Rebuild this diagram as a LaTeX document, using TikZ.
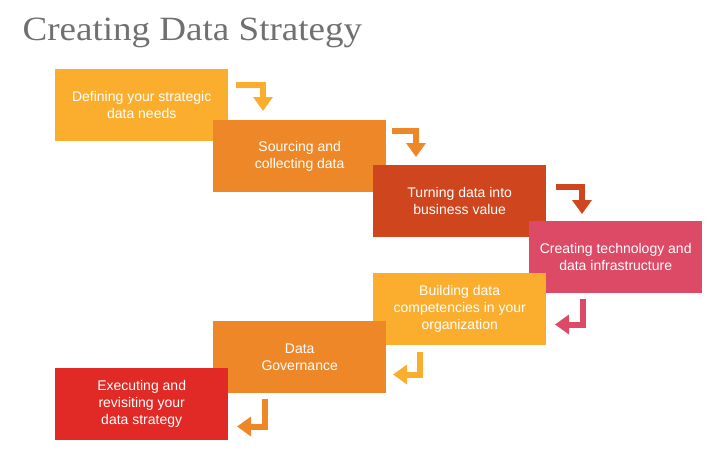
\documentclass[tikz,border=0pt]{standalone}
\usepackage{fontspec}
\setmainfont{Liberation Sans}
\newfontfamily\titlefont[FakeStretch=1.09]{Liberation Serif}
\usetikzlibrary{arrows.meta}

\definecolor{ccyellow}{HTML}{FBAE2E}
\definecolor{ccorange}{HTML}{ED8727}
\definecolor{ccrust}{HTML}{CF451E}
\definecolor{ccpink}{HTML}{DD4A66}
\definecolor{ccred}{HTML}{E12A26}
\definecolor{ccgrey}{HTML}{707070}

\begin{document}
\begin{tikzpicture}[x=1pt,y=-1pt,
  stepbox/.style={anchor=north west, minimum width=173pt, minimum height=72pt,
    inner sep=0pt, align=center, text=white, font=\fontsize{14}{17}\selectfont},
  turnarrow/.style={line width=6pt, line join=miter, -{Triangle[length=14pt,width=19pt]}}]

\useasboundingbox (0,0) rectangle (720,461);

% Title
\node[anchor=base west, text=ccgrey, font=\titlefont\fontsize{34}{34}\selectfont] (title) at (19,40) {Creating Data Strategy};

% Steps (each one drawn over the one before)
\node[stepbox, fill=ccyellow] (b1) at (55,69) {Defining your strategic\\data needs};
\node[stepbox, fill=ccorange] (b2) at (213,120) {Sourcing and\\collecting data};
\node[stepbox, fill=ccrust] (b3) at (373,165) {Turning data into\\business value};
\node[stepbox, fill=ccpink] (b4) at (529,221) {Creating technology and\\data infrastructure};
\node[stepbox, fill=ccyellow] (b5) at (373,273) {Building data\\competencies in your\\organization};
\node[stepbox, fill=ccorange] (b6) at (213,321) {Data\\Governance};
\node[stepbox, fill=ccred] (b7) at (55,368) {Executing and\\revisiting your\\data strategy};

% Start and end points of the bent arrows
\coordinate (s1) at (236,85);
\coordinate (t1) at (263,111);
\coordinate (s2) at (392,131);
\coordinate (t2) at (416,157);
\coordinate (s3) at (556,187);
\coordinate (t3) at (582,214);
\coordinate (s4) at (583,299);
\coordinate (t4) at (555,324.5);
\coordinate (s5) at (419.5,352);
\coordinate (t5) at (393,374.5);
\coordinate (s6) at (264.5,399);
\coordinate (t6) at (237,426.5);

% Going right, then down
\foreach \i/\c in {1/ccyellow,2/ccorange,3/ccrust}
{
    \draw[turnarrow, \c] (s\i) -| (t\i);
}
% Going down, then left
\foreach \i/\c in {4/ccpink,5/ccyellow,6/ccorange}
{
    \draw[turnarrow, \c] (s\i) |- (t\i);
}

\end{tikzpicture}
\end{document}
